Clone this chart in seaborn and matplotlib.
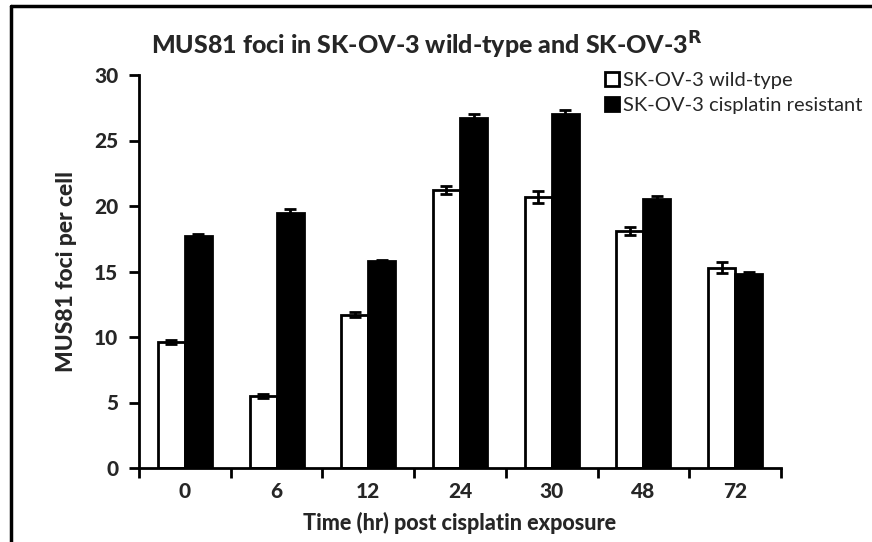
import numpy as np
import pandas as pd
import matplotlib
matplotlib.use("Agg")
import matplotlib.pyplot as plt
from matplotlib.lines import Line2D
from matplotlib.patches import Patch
import seaborn as sns

# Time points (hours after cisplatin exposure)
time_points = ["0", "6", "12", "24", "30", "48", "72"]
series_names = ["SK-OV-3 wild-type", "SK-OV-3 cisplatin resistant"]

# Mean MUS81 foci per cell and error (SEM)
wild_type = [9.6, 5.5, 11.7, 21.25, 20.7, 18.1, 15.3]
wild_type_err = [0.15, 0.15, 0.2, 0.3, 0.45, 0.3, 0.4]
resistant = [17.7, 19.5, 15.8, 26.7, 27.05, 20.5, 14.8]
resistant_err = [0.2, 0.3, 0.1, 0.35, 0.3, 0.3, 0.2]

df = pd.DataFrame({
    "time": time_points * 2,
    "line": [series_names[0]] * len(time_points) + [series_names[1]] * len(time_points),
    "foci": wild_type + resistant,
    "err": wild_type_err + resistant_err,
})

sns.set_style("white")
plt.rcParams["font.family"] = ["Lato", "DejaVu Sans"]
HEAVY = "black"

fig = plt.figure(figsize=(8.72, 5.42), dpi=100)
ax = fig.add_axes([139 / 872, 1 - 468 / 542, 642 / 872, 393 / 542])

palette = {series_names[0]: "white", series_names[1]: "black"}
sns.barplot(data=df, x="time", y="foci", hue="line", order=time_points,
            hue_order=series_names, palette=palette, width=0.59,
            edgecolor="black", linewidth=2, errorbar=None, ax=ax,
            legend=False)

# Error bars placed on the bar centres computed by seaborn
for cont, name in zip(ax.containers, series_names):
    sub = df[df["line"] == name].set_index("time").loc[time_points]
    xs = [p.get_x() + p.get_width() / 2 for p in cont.patches]
    hs = [p.get_height() for p in cont.patches]
    ax.errorbar(xs, hs, yerr=sub["err"].values, fmt="none", ecolor="black",
                elinewidth=2, capsize=4, capthick=2, zorder=5)

ax.set_xlim(-0.5, len(time_points) - 0.5)
ax.set_ylim(0, 30)
ax.set_yticks(np.arange(0, 31, 5))

# Category separators as major ticks, labels on minor ticks
ax.set_xticks(np.arange(-0.5, len(time_points), 1))
ax.set_xticklabels([])
ax.set_xticks(np.arange(len(time_points)), minor=True)
ax.set_xticklabels(time_points, minor=True, fontsize=15, fontweight=HEAVY)
ax.tick_params(axis="x", which="major", direction="out", length=7, width=2,
               color="black", bottom=True)
ax.tick_params(axis="x", which="minor", length=0, pad=10)
ax.tick_params(axis="y", direction="out", length=7, width=2, color="black",
               left=True, labelsize=15, pad=8)
for lbl in ax.get_yticklabels():
    lbl.set_fontweight(HEAVY)

for side in ["top", "right"]:
    ax.spines[side].set_visible(False)
for side in ["left", "bottom"]:
    ax.spines[side].set_color("black")
    ax.spines[side].set_linewidth(2)

ax.set_xlabel("Time (hr) post cisplatin exposure", fontsize=15.5,
              fontweight=HEAVY, labelpad=8)
ax.set_ylabel("MUS81 foci per cell", fontsize=16.5, fontweight=HEAVY,
              labelpad=12)

fig.text(0.49, 1 - 45 / 542,
         r"MUS81 foci in SK-OV-3 wild-type and SK-OV-3$^{\mathbf{R}}$",
         ha="center", va="center", fontsize=18, fontweight=HEAVY)

handles = [Patch(facecolor="white", edgecolor="black", linewidth=2),
           Patch(facecolor="black", edgecolor="black", linewidth=2)]
fig.legend(handles, series_names, loc="upper left",
           bbox_to_anchor=(605 / 872, 1 - 72 / 542), frameon=False,
           fontsize=14.5, handlelength=0.7, handleheight=0.7,
           handletextpad=0.2, labelspacing=0.4, borderaxespad=0,
           borderpad=0)

# Outer frame lines along the top and left edges
fig.add_artist(Line2D([11 / 872, 1], [1 - 6 / 542, 1 - 6 / 542],
                      transform=fig.transFigure, color="black", linewidth=2.5))
fig.add_artist(Line2D([11 / 872, 11 / 872], [0, 1 - 6 / 542],
                      transform=fig.transFigure, color="black", linewidth=2.5))

fig.savefig("out.png", dpi=100)
